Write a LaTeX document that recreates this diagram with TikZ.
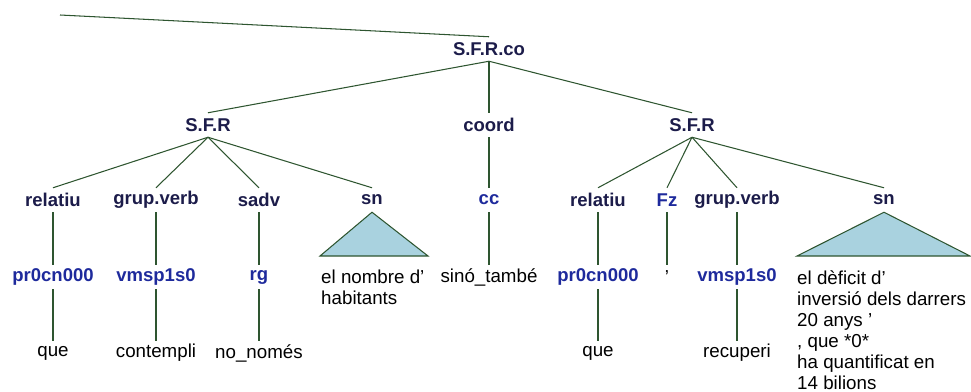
\documentclass[tikz,border=0pt]{standalone}
\usepackage{fontspec}
\setmainfont{Liberation Sans}
\usepackage{xcolor}
\usepackage{tikz}
\definecolor{branchcol}{HTML}{2E5530}
\definecolor{catcol}{HTML}{1C1C4A}
\definecolor{tagcol}{HTML}{1E2A9C}
\definecolor{roofcol}{HTML}{A9D2DF}

\begin{document}
\begin{tikzpicture}[x=0.03cm, y=-0.03cm,
  every node/.style={font=\fontsize{16pt}{18pt}\selectfont, inner sep=0pt, minimum height=0.72cm},
  cat/.style={font=\fontsize{15.8pt}{18pt}\selectfont\bfseries, text=catcol},
  tag/.style={font=\fontsize{15.8pt}{18pt}\selectfont\bfseries, text=tagcol},
  word/.style={text=black},
  leaf/.style={text=black, align=left, anchor=north west, minimum height=0pt},
  edge/.style={draw=branchcol, line width=0.9pt},
  roof/.style={draw=branchcol, line width=0.9pt, fill=roofcol}]
  \useasboundingbox (0,0) rectangle (971,392);
  % top of the tree
  \coordinate (hang) at (60,15);
  \node[cat] (co) at (489,49) {S.F.R.co};
  \draw[edge] (hang) -- (co.north);
  \node[cat] (sfrA) at (208,125) {S.F.R};
  \node[cat] (coord) at (489,125) {coord};
  \node[cat] (sfrB) at (692,125) {S.F.R};
  \draw[edge] (co.south) -- (sfrA.north);
  \draw[edge] (co.south) -- (coord.north);
  \draw[edge] (co.south) -- (sfrB.north);
  % first S.F.R
  \node[cat] (relA) at (53,200) {relatiu};
  \node[cat] (gvA) at (156,200) {grup.verb};
  \node[cat] (sadv) at (259,200) {sadv};
  \node[cat] (snA) at (372,200) {sn};
  \draw[edge] (sfrA.south) -- (relA.north);
  \draw[edge] (sfrA.south) -- (gvA.north);
  \draw[edge] (sfrA.south) -- (sadv.north);
  \draw[edge] (sfrA.south) -- (snA.north);
  \node[tag] (prA) at (53,277) {pr0cn000};
  \node[tag] (vmA) at (156,277) {vmsp1s0};
  \node[tag] (rg) at (259,277) {rg};
  \draw[edge] (relA.south) -- (prA.north);
  \draw[edge] (gvA.south) -- (vmA.north);
  \draw[edge] (sadv.south) -- (rg.north);
  \node[word] (queA) at (53,353) {que};
  \node[word] (cont) at (156,353) {contempli};
  \node[word] (nonom) at (259,353) {no\_només};
  \draw[edge] (prA.south) -- (queA.north);
  \draw[edge] (vmA.south) -- (cont.north);
  \draw[edge] (rg.south) -- (nonom.north);
  \coordinate (snAl) at (320,256);
  \coordinate (snAr) at (428,256);
  \draw[roof] (snA.south) -- (snAr) -- (snAl) -- cycle;
  \node[leaf] (habit) at (321,270) {el nombre d’\\habitants};
  % coordinator
  \node[tag] (cc) at (489,200) {cc};
  \node[word] (sino) at (489,277) {sinó\_també};
  \draw[edge] (coord.south) -- (cc.north);
  \draw[edge] (cc.south) -- (sino.north);
  % second S.F.R
  \node[cat] (relB) at (598,200) {relatiu};
  \node[tag] (fz) at (667,200) {Fz};
  \node[cat] (gvB) at (737,200) {grup.verb};
  \node[cat] (snB) at (884,200) {sn};
  \draw[edge] (sfrB.south) -- (relB.north);
  \draw[edge] (sfrB.south) -- (fz.north);
  \draw[edge] (sfrB.south) -- (gvB.north);
  \draw[edge] (sfrB.south) -- (snB.north);
  \node[tag] (prB) at (598,277) {pr0cn000};
  \node[word] (apos) at (667,277) {’};
  \node[tag] (vmB) at (737,277) {vmsp1s0};
  \draw[edge] (relB.south) -- (prB.north);
  \draw[edge] (fz.south) -- (apos.north);
  \draw[edge] (gvB.south) -- (vmB.north);
  \node[word] (queB) at (598,353) {que};
  \node[word] (recup) at (737,353) {recuperi};
  \draw[edge] (prB.south) -- (queB.north);
  \draw[edge] (vmB.south) -- (recup.north);
  \coordinate (snBl) at (797,256);
  \coordinate (snBr) at (970,256);
  \draw[roof] (snB.south) -- (snBr) -- (snBl) -- cycle;
  \node[leaf] (defic) at (797,270) {el dèficit d’\\inversió dels darrers\\20 anys ’\\, que *0*\\ha quantificat en\\14 bilions};
\end{tikzpicture}
\end{document}
